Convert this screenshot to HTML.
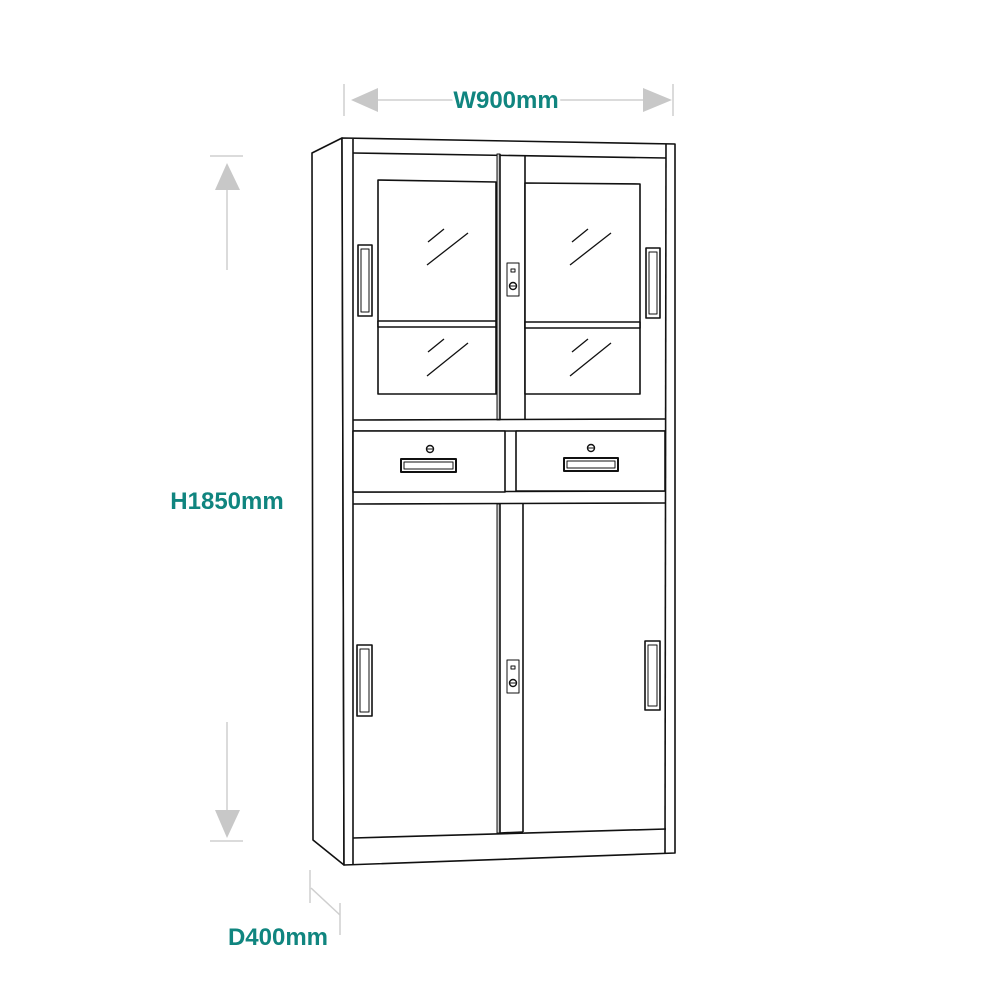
<!DOCTYPE html>
<html><head><meta charset="utf-8"><style>
html,body{margin:0;padding:0;background:#fff}
svg{display:block}
text{font-family:"Liberation Sans","DejaVu Sans",sans-serif;font-weight:bold;fill:#10857f;font-size:24px}
</style></head><body>
<svg width="1000" height="1000" viewBox="0 0 1000 1000" xmlns="http://www.w3.org/2000/svg">
<g stroke="#cfcfcf" stroke-width="1.5" fill="#c8c8c8">
<line x1="344" y1="84" x2="344" y2="116"/>
<line x1="673" y1="84" x2="673" y2="116"/>
<line x1="370" y1="100" x2="650" y2="100"/>
<polygon points="351,100 378,88 378,112" stroke="none"/>
<polygon points="672,100 643,88 643,112" stroke="none"/>
<line x1="210" y1="156" x2="243" y2="156"/>
<line x1="227" y1="185" x2="227" y2="270"/>
<polygon points="227,163 215,190 240,190" stroke="none"/>
<line x1="210" y1="841" x2="243" y2="841"/>
<line x1="227" y1="722" x2="227" y2="815"/>
<polygon points="227,838 215,810 240,810" stroke="none"/>
<line x1="310" y1="870" x2="310" y2="903"/>
<line x1="311" y1="888" x2="340" y2="915"/>
<line x1="340" y1="903" x2="340" y2="935"/>
</g>
<text x="506" y="108" text-anchor="middle" stroke="#fff" stroke-width="6" paint-order="stroke">W900mm</text>
<text x="227" y="509" text-anchor="middle">H1850mm</text>
<text x="278" y="945" text-anchor="middle">D400mm</text>

<g stroke="#111" stroke-width="1.6" fill="#fff" stroke-linejoin="round">
<polygon points="312,153 342,138 344,865 313,840"/>
<polygon points="342,138 675,144 675,853 344,865"/>
<line x1="353" y1="139" x2="353" y2="865"/>
<line x1="666" y1="144" x2="665" y2="854"/>
<line x1="353" y1="153" x2="666" y2="158"/>
<line x1="353" y1="838" x2="666" y2="829"/>
<rect x="497" y="154" width="3" height="266" fill="#ccc" stroke-width="1"/>
<line x1="500" y1="154" x2="500" y2="420"/>
<line x1="525" y1="156" x2="525" y2="420"/>
<line x1="353" y1="420" x2="666" y2="419"/>
<line x1="353" y1="431" x2="666" y2="431"/>
<line x1="353" y1="492" x2="666" y2="491"/>
<line x1="353" y1="504" x2="666" y2="503"/>
<polygon points="378,180 496,182 496,394 378,394"/>
<rect x="378" y="321" width="118" height="6"/>
<polygon points="525,183 640,184 640,394 525,394"/>
<rect x="525" y="322" width="115" height="6"/>
<g stroke-width="1.3">
<line x1="428" y1="242" x2="444" y2="229"/><line x1="427" y1="265" x2="468" y2="233"/>
<line x1="572" y1="242" x2="588" y2="229"/><line x1="570" y1="265" x2="611" y2="233"/>
<line x1="428" y1="352" x2="444" y2="339"/><line x1="427" y1="376" x2="468" y2="343"/>
<line x1="572" y1="352" x2="588" y2="339"/><line x1="570" y1="376" x2="611" y2="343"/>
</g>
<rect x="353" y="431" width="152" height="61"/>
<rect x="516" y="431" width="149" height="60"/>
<rect x="401" y="459" width="55" height="13" stroke-width="2"/>
<rect x="404" y="462" width="49" height="7" stroke-width="1"/>
<rect x="564" y="458" width="54" height="13" stroke-width="2"/>
<rect x="567" y="461" width="48" height="7" stroke-width="1"/>
<circle cx="430" cy="449" r="3.5" stroke-width="1.4"/><line x1="427" y1="449" x2="433" y2="449" stroke-width="1"/>
<circle cx="591" cy="448" r="3.5" stroke-width="1.4"/><line x1="588" y1="448" x2="594" y2="448" stroke-width="1"/>
<rect x="497" y="504" width="3" height="329" fill="#ccc" stroke-width="1"/>
<line x1="500" y1="504" x2="500" y2="833"/>
<line x1="523" y1="504" x2="523" y2="832"/>
<line x1="500" y1="833" x2="523" y2="832"/>
<g stroke-width="1.6">
<rect x="358" y="245" width="14" height="71"/><rect x="361" y="249" width="8" height="63" stroke-width="1"/>
<rect x="646" y="248" width="14" height="70"/><rect x="649" y="252" width="8" height="62" stroke-width="1"/>
<rect x="357" y="645" width="15" height="71"/><rect x="360" y="649" width="9" height="63" stroke-width="1"/>
<rect x="645" y="641" width="15" height="69"/><rect x="648" y="645" width="9" height="61" stroke-width="1"/>
</g>
<g stroke-width="1">
<rect x="507" y="263" width="12" height="33"/><rect x="511" y="269" width="4" height="3"/>
<circle cx="513" cy="286" r="3.5" stroke-width="1.4"/><line x1="509" y1="286" x2="517" y2="286"/>
<rect x="507" y="660" width="12" height="33"/><rect x="511" y="666" width="4" height="3"/>
<circle cx="513" cy="683" r="3.5" stroke-width="1.4"/><line x1="509" y1="683" x2="517" y2="683"/>
</g>
</g>
</svg>
</body></html>
